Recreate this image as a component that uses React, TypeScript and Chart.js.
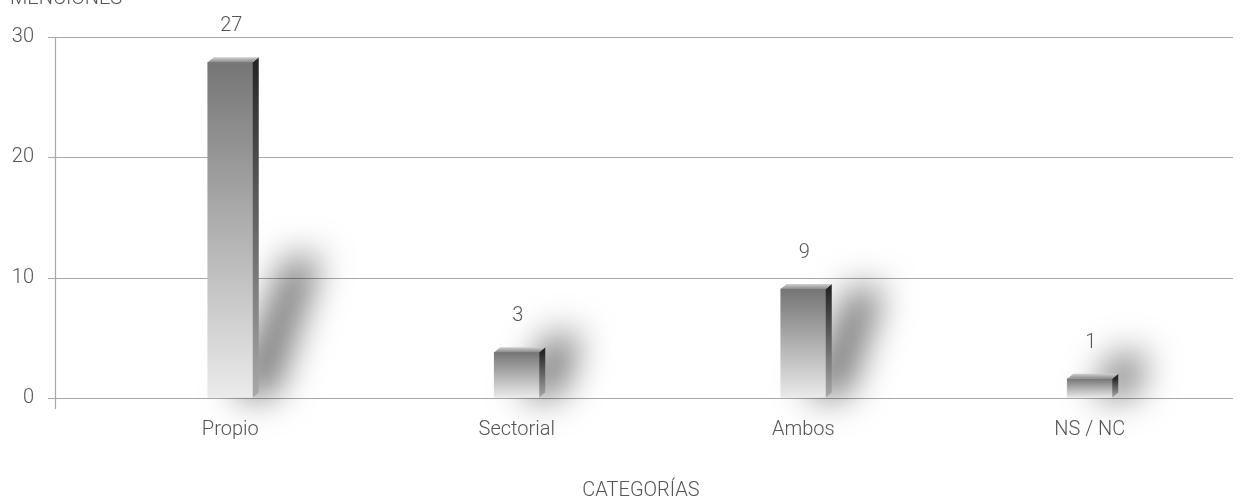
import React, { useEffect, useRef } from "react";
import { Chart, registerables } from "chart.js";

Chart.register(...registerables);

const categories = ["Propio", "Sectorial", "Ambos", "NS / NC"];
const barValues = [27.9, 3.8, 9.05, 1.6];
const valueLabels = ["27", "3", "9", "1"];
const yTicks = [0, 10, 20, 30];
const yTitle = "MENCIONES";
const xTitle = "CATEGORÍAS";

const FONT = '"Roboto", "Liberation Sans", sans-serif';
const TEXT = "#555555";
const GRID = "#a9a9a9";
const W = 1245;
const H = 499;
const DEPTH_X = 6;
const DEPTH_Y = 5;

const decorPlugin = {
  id: "decor",
  beforeDatasetsDraw(chart: any) {
    const ctx = chart.ctx;
    const y = chart.scales.y;
    const area = chart.chartArea;
    ctx.save();
    ctx.strokeStyle = GRID;
    ctx.lineWidth = 1.2;
    yTicks.forEach((t) => {
      const py = Math.round(y.getPixelForValue(t)) + 0.5;
      ctx.beginPath();
      ctx.moveTo(48, py);
      ctx.lineTo(area.right, py);
      ctx.stroke();
    });
    ctx.beginPath();
    ctx.moveTo(55.5, y.getPixelForValue(30));
    ctx.lineTo(55.5, y.getPixelForValue(0) + 11);
    ctx.stroke();
    ctx.restore();

    // soft cast shadows
    const meta = chart.getDatasetMeta(0);
    meta.data.forEach((bar: any) => {
      const x1 = bar.x + bar.width / 2;
      const b = bar.base;
      const h = b - bar.y;
      const sh = Math.min(28 + 0.75 * h, 140);
      const dx = 0.33 * sh;
      ctx.save();
      ctx.shadowColor = "rgba(0,0,0,0.62)";
      ctx.shadowBlur = 36;
      ctx.shadowOffsetX = 3000;
      ctx.translate(-3000, 0);
      ctx.fillStyle = "#000";
      ctx.beginPath();
      ctx.moveTo(x1 - 18, b - 2);
      ctx.lineTo(x1 + 20, b - 2);
      ctx.lineTo(x1 + 20 + dx, b - sh);
      ctx.lineTo(x1 - 10 + dx, b - sh);
      ctx.closePath();
      ctx.fill();
      ctx.restore();
    });
  },
  afterDatasetsDraw(chart: any) {
    const ctx = chart.ctx;
    const meta = chart.getDatasetMeta(0);
    meta.data.forEach((bar: any, i: number) => {
      const x0 = bar.x - bar.width / 2;
      const x1 = bar.x + bar.width / 2;
      const top = bar.y;
      const b = bar.base;
      ctx.save();
      // side face
      const sg = ctx.createLinearGradient(0, top, 0, b);
      sg.addColorStop(0, "#262626");
      sg.addColorStop(1, "#a8a8a8");
      ctx.fillStyle = sg;
      ctx.beginPath();
      ctx.moveTo(x1, top);
      ctx.lineTo(x1 + DEPTH_X, top - DEPTH_Y);
      ctx.lineTo(x1 + DEPTH_X, b - DEPTH_Y);
      ctx.lineTo(x1, b);
      ctx.closePath();
      ctx.fill();
      // top face
      const tg = ctx.createLinearGradient(0, top - DEPTH_Y, 0, top);
      tg.addColorStop(0, "#cfcfcf");
      tg.addColorStop(1, "#8a8a8a");
      ctx.fillStyle = tg;
      ctx.beginPath();
      ctx.moveTo(x0, top);
      ctx.lineTo(x1, top);
      ctx.lineTo(x1 + DEPTH_X, top - DEPTH_Y);
      ctx.lineTo(x0 + DEPTH_X, top - DEPTH_Y);
      ctx.closePath();
      ctx.fill();
      // value label
      ctx.fillStyle = TEXT;
      ctx.font = `300 20px ${FONT}`;
      ctx.textAlign = "center";
      ctx.textBaseline = "middle";
      ctx.fillText(valueLabels[i], bar.x + 1, top - 36);
      ctx.restore();
    });
  },
  afterDraw(chart: any) {
    const ctx = chart.ctx;
    ctx.save();
    ctx.fillStyle = TEXT;
    ctx.font = `300 20px ${FONT}`;
    ctx.textAlign = "left";
    ctx.textBaseline = "alphabetic";
    ctx.fillText(yTitle, 10, 4);
    ctx.textAlign = "center";
    ctx.fillText(xTitle, 641, 496);
    ctx.restore();
  },
};

export default function App() {
  const ref = useRef<HTMLCanvasElement | null>(null);
  useEffect(() => {
    document.body.style.margin = "0";
    document.body.style.background = "#ffffff";
    const canvas = ref.current!;
    const chart = new Chart(canvas, {
      type: "bar",
      data: {
        labels: categories,
        datasets: [
          {
            data: barValues,
            barThickness: 45,
            borderWidth: 0,
            backgroundColor: (c: any) => {
              const ch = c.chart;
              const ys = ch.scales?.y;
              if (!ch.chartArea || !ys || c.parsed == null) return "#999";
              const top = ys.getPixelForValue(c.parsed.y);
              const base = ys.getPixelForValue(0);
              const g = ch.ctx.createLinearGradient(0, top, 0, base);
              g.addColorStop(0, "#757575");
              g.addColorStop(1, "#ebebeb");
              return g;
            },
          },
        ],
      },
      options: {
        responsive: false,
        animation: false,
        devicePixelRatio: 1,
        layout: { padding: { top: 37, right: 12, left: 0, bottom: 0 } },
        plugins: {
          legend: { display: false },
          tooltip: { enabled: false },
        },
        scales: {
          x: {
            grid: { display: false, drawTicks: false },
            border: { display: false },
            ticks: {
              color: TEXT,
              font: { family: FONT, size: 20, weight: "300" as any },
              padding: 20,
              maxRotation: 0,
            },
            afterFit: (s: any) => {
              s.height = 101;
            },
          },
          y: {
            min: 0,
            max: 30,
            grid: {
              display: true,
              drawOnChartArea: false,
              drawTicks: true,
              tickLength: 53,
              color: "rgba(0,0,0,0)",
            },
            border: { display: false },
            ticks: {
              stepSize: 10,
              color: TEXT,
              font: { family: FONT, size: 20, weight: "300" as any },
              padding: 0,
            },
            afterFit: (s: any) => {
              s.width = 87;
            },
          },
        },
      },
      plugins: [decorPlugin],
    });
    return () => chart.destroy();
  }, []);
  return <canvas ref={ref} width={W} height={H} style={{ display: "block", width: W, height: H }} />;
}
